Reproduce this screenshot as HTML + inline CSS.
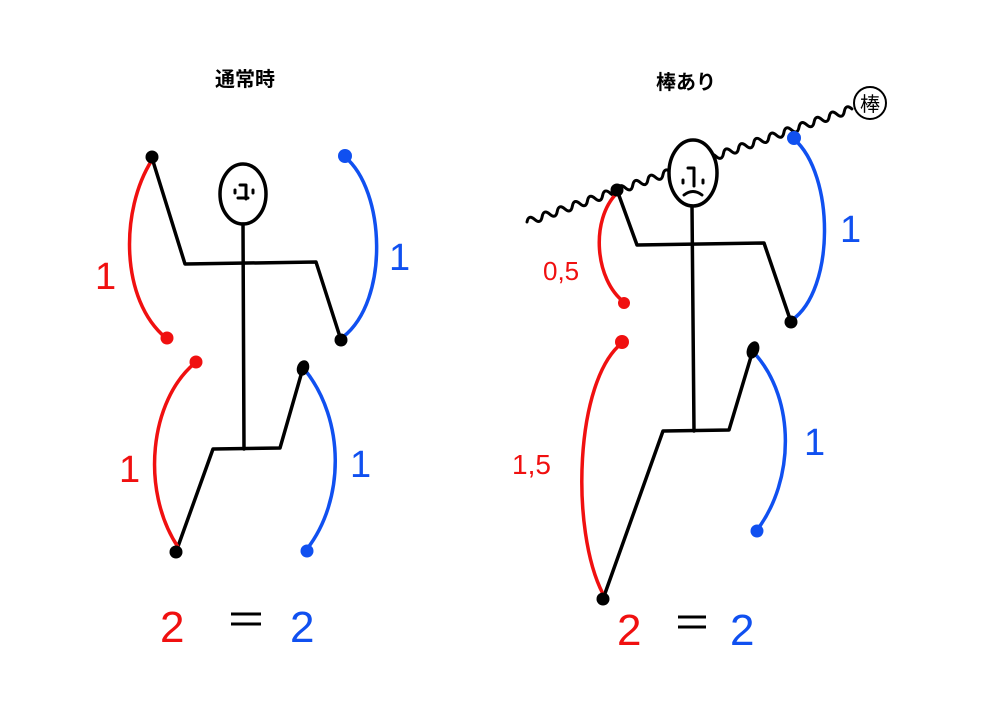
<!DOCTYPE html>
<html><head><meta charset="utf-8"><style>
html,body{margin:0;padding:0;background:#fff}
svg{display:block}
text{font-family:"Liberation Sans","Noto Sans CJK JP",sans-serif}
</style></head><body>
<svg width="1000" height="707" viewBox="0 0 1000 707" xmlns="http://www.w3.org/2000/svg">
<g fill="none" stroke-linecap="round" stroke-linejoin="round">
<!-- LEFT FIGURE -->
<g stroke="#000" stroke-width="3.5">
<ellipse cx="243" cy="194" rx="23" ry="30"/>
<path d="M243 224 L244 449"/>
<path d="M152 158 L185 264 L316 262 L341 340"/>
<path d="M176 552 L213 449 L280 448 L303 368"/>
</g>
<g stroke="#000" stroke-width="3">
<path d="M235 190 v3 M253 190 v3 M240 185 h6 v14 M238 198 h10"/>
</g>
<g stroke="#f01010" stroke-width="3.5">
<path d="M152 160 C120 210 120 300 166 338"/>
<path d="M195 363 C150 400 140 490 178 547"/>
</g>
<g stroke="#1050f0" stroke-width="3.5">
<path d="M345 157 C385 190 390 300 343 337"/>
<path d="M305 370 C345 420 345 500 307 549"/>
</g>
<!-- wave (behind head) -->
<g stroke="#000" stroke-width="3">
<path transform="translate(527,222) rotate(-19.2)" d="M0 0 q4 -7 8 0 t8 0 t8 0 t8 0 t8 0 t8 0 t8 0 t8 0 t8 0 t8 0 t8 0 t8 0 t8 0 t8 0 t8 0 t8 0 t8 0 t8 0 t8 0 t8 0 t8 0 t8 0 t8 0 t8 0 t8 0 t8 0 t8 0 t8 0 t8 0 t8 0 t8 0 t8 0 t8 0 t8 0 t8 0 t8 0 t8 0 t8 0 t8 0 t8 0 t8 0 t8 0 t8 0"/>
</g>
<!-- RIGHT FIGURE -->
<g stroke="#000" stroke-width="3.5">
<ellipse cx="693" cy="173" rx="24" ry="33" fill="#fff"/>
<path d="M692 206 L694 431"/>
<path d="M617 190 L637 245 L764 243 L791 322"/>
<path d="M603 599 L663 431 L729 430 L753 350"/>
</g>
<g stroke="#000" stroke-width="3">
<path d="M683 180 v3 M703 180 v3 M688 168 h6 v18 M684 195 q9 -7 18 0"/>
</g>
<circle cx="870" cy="103" r="16" stroke="#000" stroke-width="2"/>
<g stroke="#f01010" stroke-width="3.5">
<path d="M617 193 C590 220 595 280 624 302"/>
<path d="M622 343 C575 380 570 530 603 594"/>
</g>
<g stroke="#1050f0" stroke-width="3.5">
<path d="M794 139 C835 175 835 290 792 320"/>
<path d="M756 355 C795 400 795 480 757 530"/>
</g>
</g>
<!-- dots -->
<g fill="#000">
<circle cx="152" cy="157" r="6.5"/><circle cx="341" cy="340" r="6.5"/>
<ellipse cx="303" cy="368" rx="6" ry="8" transform="rotate(20 303 368)"/><circle cx="176" cy="552" r="6.5"/>
<circle cx="617" cy="190" r="6.5"/><circle cx="791" cy="322" r="6.5"/>
<ellipse cx="753" cy="350" rx="6" ry="9" transform="rotate(20 753 350)"/><circle cx="603" cy="599" r="6.5"/>
</g>
<g fill="#f01010">
<circle cx="167" cy="338" r="6.5"/><circle cx="196" cy="362" r="6.5"/>
<circle cx="624" cy="303" r="6"/><circle cx="622" cy="342" r="7"/>
</g>
<g fill="#1050f0">
<circle cx="345" cy="156" r="7"/><circle cx="307" cy="551" r="6.5"/>
<circle cx="794" cy="138" r="7"/><circle cx="757" cy="531" r="6.5"/>
</g>
<!-- text -->
<text x="245" y="86" font-size="20" font-weight="bold" text-anchor="middle" font-family="Noto Serif CJK SC, serif">通常時</text>
<text x="686" y="89" font-size="20" font-weight="bold" text-anchor="middle" font-family="Noto Serif CJK SC, serif">棒あり</text>
<text x="870" y="111" font-size="20" text-anchor="middle">棒</text>
<g fill="#f01010" font-size="38">
<text x="95" y="289">1</text>
<text x="119" y="482">1</text>
<text x="543" y="280" font-size="26">0,5</text>
<text x="512" y="474" font-size="28">1,5</text>
<text x="160" y="642" font-size="44">2</text>
<text x="617" y="645" font-size="44">2</text>
</g>
<g fill="#1050f0" font-size="38">
<text x="389" y="270">1</text>
<text x="350" y="477">1</text>
<text x="840" y="242">1</text>
<text x="804" y="455">1</text>
<text x="290" y="642" font-size="44">2</text>
<text x="730" y="645" font-size="44">2</text>
</g>
<g stroke="#000" stroke-width="3">
<path d="M231 614 h30 M231 624 h30"/>
<path d="M678 617 h28 M678 627 h28"/>
</g>
</svg>
</body></html>
